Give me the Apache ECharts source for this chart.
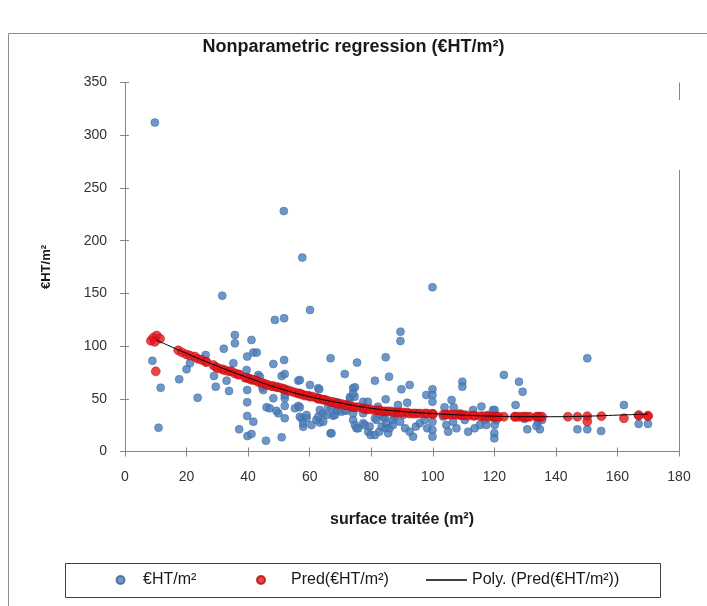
<!DOCTYPE html>
<html>
<head>
<meta charset="utf-8">
<script src="https://cdn.jsdelivr.net/npm/echarts@6/dist/echarts.min.js"></script>
<style>
  html, body { margin: 0; padding: 0; background: #ffffff; }
  #chart { width: 707px; height: 606px; }
</style>
</head>
<body>
<div id="chart"></div>
<script>
// Observed price per m² against treated surface
const observed = [
  [9.7,312],[8.9,86],[11.6,60.5],[10.9,22.6],[17.6,68.5],[20.0,78],[21.1,83.7],
  [23.6,51],[26.2,91.6],[28.9,71.6],[29.5,61.5],[31.6,147.8],[32.1,97.5],[33.0,67.2],[33.8,57.4],
  [35.7,110.5],[35.7,102.6],[35.2,83.7],[37.1,21],[39.7,90],[39.5,77.3],[39.7,58.3],[39.7,46.7],
  [39.7,33.7],[39.8,14.7],
  [41.1,105.8],[41.7,93.8],[42.8,93.8],[41.7,28.3],[41.1,16.6],[43.3,72.6],[43.8,71],[44.9,58.3],
  [44.6,61],[45.8,10.3],[46,41.9],[47,41],[48.2,50.5],[48.2,83],[48.7,124.8],[49.8,36.2],[49.2,38.6],
  [51.7,126.4],[51.6,228],[51.7,86.8],[50.9,71.6],[51.9,73.5],[51.9,50.5],[51.9,43.2],[51.9,31.5],
  [50.9,13.5],[51.9,53.6],[55.2,41],[56.3,43.2],[56.3,67.2],[57.4,31.5],[56.8,67.8],[57.6,183.9],
  [56.8,33],[57.9,23.5],[59,31.5],[56.8,41.9],[59,34.6],[57.9,26.8],
  [60.1,134.3],[60.1,63.1],[60.6,25.1],[62.2,30],[63.3,27.5],[62.8,60],[63.1,59],[63.3,39.4],
  [62.8,33],[64.4,36.2],[64.4,28.3],[65.5,34.6],[66.0,42.5],[66.8,17.2],[66.8,88.4],[67.1,41],
  [67.6,34],[68.2,34.6],[68.7,39.4],[69.2,38.6],[69.2,46.5],[67.1,17.3],
  [70.4,37.8],[71.4,73.5],[71.4,39.4],[72,38.6],[73.1,49.7],[73.1,51.6],[74.1,60],[74.6,52],
  [74.7,60.9],[74.1,55.2],[74.1,36.2],[74.1,29.9],[74.7,25.2],[75.2,22],[75.8,22],[75.4,84.3],
  [77.4,36.2],[77.4,47.2],[77.4,26.8],[77.9,25.2],[78.9,47.2],[79,18.8],[79.5,23.6],[79.8,15.6],
  [81.2,67.2],[81.2,15.6],[81.2,31.5],[81.7,29.9],[82.2,42.5],[82.6,18.8],[82.8,34.6],[83.4,23.6],
  [83.9,33],[84.4,31.5],[84.7,89.4],[84.7,49.5],[84.7,22],[85,26.8],[85.5,17.3],[85.8,71],[86,22],
  [87.1,25.2],[87.1,30],[87.6,33.1],[88.2,37.8],[88.7,44.1],[89.4,28.3],[89.5,113.7],[89.5,104.8],
  [89.8,59],[90.4,34.6],[91,22],[91.7,46.3],[92.5,63.1],[92.5,18.8],[93.6,14.1],[94.5,23.6],
  [95.2,36.2],[95.8,26.8],[97.4,29.9],[97.9,53.6],[98.2,22],[99.9,155.8],[99.9,59],[99.9,53.6],
  [99.9,47.2],[99.9,36.2],[99.9,28.3],[99.9,20.4],[99.9,14.1],
  [103.4,33.1],[103.8,41.9],[104.4,25.2],[105,18.8],[106.1,48.9],[106.6,28.3],[106.8,41.9],
  [107.7,22],[108.8,36.2],[109.6,66.2],[109.6,61.5],[110.4,29.9],[111.5,18.8],[113.1,39.4],
  [113.6,22],[115.3,25.2],[115.8,42.6],[116.9,29.9],[117.4,25.2],[118,34.6],[119.6,39.4],
  [120.1,39.4],[120.1,25.2],[120.7,29.9],[120,17.3],[120,12.5],[123.1,72.6],[126.9,44.1],
  [128,66.2],[129.2,56.7],[129.8,30.9],[130.7,21],[133.7,24.1],[134.2,28.3],[134.8,21],[135.5,29.9],
  [147,21],[150.2,21],[150.2,88.4],[154.7,19.4],[162.1,44.1],[166.9,26.2],[169.9,26.2]
];

// Predicted values from the nonparametric fit
const predicted = [
  [8.4,105],[9.2,108],[10.3,110],[11.4,107],[10,76],[9.7,104],
  [17.3,96],[18.5,94],[20,92],[21.1,91],[22.7,90],[23.6,88],[24.9,87],[26.2,85],[26.5,85],
  [28.7,82],[29.5,80],[30.3,79],[31.6,78],[32.5,77],[33.8,76],[34.6,76],[35.7,74],[36.8,73],
  [37.1,73],[39,70],[39.7,70],[40.5,69],[41.1,68],[41.7,68],[42.8,67],[43.3,66],[44.6,65],
  [45.5,64],[46.5,63],[47.6,62],[48.2,62],[49.2,61],[49.8,61],[50.9,60],[51.7,59],[51.9,59],
  [53,58],[54.1,57],[55.2,56],[56.3,55],[56.8,55],[57.6,54],[58.4,53],[59.5,53],[60.1,52],
  [61,52],[62.2,51],[62.8,50],[63.3,50],[64.4,49],[65,49],[66,48],[66.8,47],[67.6,47],[68.7,46],
  [69.2,45],[70.4,45],[71.4,44],[72,44],[73.1,43],[74.1,42],[74.7,42],[75.8,42],[77.4,41],
  [77.9,40],[78.9,40],[79.8,40],[81.2,39],[82.2,39],[82.8,39],[83.9,38],[84.7,38],[85.5,38],
  [86.6,38],[87.6,37],[88.7,37],[89.4,37],[90.4,37],[91.7,37],[92.5,36],[93.6,36],[94.5,36],
  [95.8,36],[97.4,36],[98.2,36],[99.9,35.5],[100.1,35.5],[103.4,35],[104.4,35],[105.5,35],
  [106.6,35],[107.7,35],[108.8,34.5],[109.6,34.5],[110.4,34.5],[111.5,34],[113.1,34],[113.6,34],
  [115.3,33.5],[116.3,33.5],[117.4,33.5],[118.5,33],[119.6,33],[120.1,33],[120.7,33],[121.5,33],
  [123.1,33],[126.6,33],[126.9,33],[128,33],[129.2,33],[129.8,33],[130.7,33],[131.5,33],
  [133.7,33],[134.2,33],[134.8,33],[135.5,33],[143.9,33],[147,33],[150.2,33.5],[150.2,28.5],
  [154.8,33.5],[162.1,31.5],[166.9,34],[166.9,34.5],[169.9,34],[169.9,33.5]
];

// Polynomial trend of the predictions
const polyTrend = [
  [10,106],[20,93],[30,81],[40,70],[50,60],[60,52],[70,46],[80,41],[90,38],[100,36],
  [110,34.5],[120,33.5],[130,33],[140,33],[150,33.5],[160,34.5],[170,35.5]
];

const xTicks = { min: 0, max: 180, interval: 20 };
const yTicks = { min: 0, max: 350, interval: 50 };

const titleText = 'Nonparametric regression (€HT/m²)';
const xName = 'surface traitée (m²)';
const yName = '€HT/m²';
const seriesNames = ['€HT/m²', 'Pred(€HT/m²)', 'Poly. (Pred(€HT/m²))'];

const FONT = 'Liberation Sans';
const axisGray = '#868686';
const textDark = '#1a1a1a';

const legendText = { fontFamily: FONT, fontSize: 16, color: textDark };

// inner half of the cross-shaped tick marks
const innerTicks = {
  axisLine: { show: false },
  axisTick: { show: true, inside: true, length: 4, lineStyle: { color: axisGray } },
  axisLabel: { show: false },
  splitLine: { show: false }
};

const chart = echarts.init(document.getElementById('chart'), null, { renderer: 'canvas' });

chart.setOption({
  animation: false,
  backgroundColor: '#ffffff',
  textStyle: { fontFamily: FONT },
  title: {
    text: titleText,
    left: 'center',
    top: 33,
    textStyle: { fontFamily: FONT, fontSize: 18, fontWeight: 'bold', color: textDark }
  },
  graphic: [
    // chart area frame
    { type: 'rect', shape: { x: 8.5, y: 33.5, width: 740, height: 620 },
      style: { fill: 'none', stroke: '#8c8c8c', lineWidth: 1 }, silent: true, z: -1 },
    // right edge of the plot area
    { type: 'line', shape: { x1: 679.5, y1: 82.5, x2: 679.5, y2: 100 },
      style: { stroke: axisGray, lineWidth: 1 }, silent: true },
    { type: 'line', shape: { x1: 679.5, y1: 170, x2: 679.5, y2: 451.5 },
      style: { stroke: axisGray, lineWidth: 1 }, silent: true },
    // legend frame
    { type: 'rect', shape: { x: 65.5, y: 563.5, width: 595, height: 34 },
      style: { fill: 'none', stroke: '#404040', lineWidth: 1 }, silent: true }
  ],
  legend: [
    { left: 115.5, top: 572, padding: 0, itemWidth: 35, itemHeight: 8, textStyle: legendText,
      data: [{ name: seriesNames[0], icon: 'circle' }] },
    { left: 256, top: 572, padding: 0, itemWidth: 50, itemHeight: 8, textStyle: legendText,
      data: [{ name: seriesNames[1], icon: 'circle' }] },
    { left: 426, top: 572, padding: 0, itemWidth: 41, itemHeight: 1.6, textStyle: legendText,
      data: [{ name: seriesNames[2], icon: 'rect', itemStyle: { color: '#000000' } }] }
  ],
  grid: { left: 125, right: 28, top: 82.5, bottom: 154.5 },
  xAxis: [
    {
      type: 'value',
      min: xTicks.min, max: xTicks.max, interval: xTicks.interval,
      name: xName,
      nameLocation: 'middle',
      nameGap: 60,
      nameTextStyle: { fontFamily: FONT, fontSize: 16, fontWeight: 'bold', color: textDark },
      axisLine: { show: true, lineStyle: { color: axisGray, width: 1 } },
      axisTick: { show: true, length: 5, lineStyle: { color: axisGray } },
      axisLabel: { margin: 19, fontSize: 14, color: '#333333', fontFamily: FONT },
      splitLine: { show: false }
    },
    Object.assign({ type: 'value', position: 'bottom',
      min: xTicks.min, max: xTicks.max, interval: xTicks.interval }, innerTicks)
  ],
  yAxis: [
    {
      type: 'value',
      min: yTicks.min, max: yTicks.max, interval: yTicks.interval,
      name: yName,
      nameLocation: 'middle',
      nameGap: 72,
      nameRotate: 90,
      nameTextStyle: { fontFamily: FONT, fontSize: 13, fontWeight: 'bold', color: textDark },
      axisLine: { show: true, lineStyle: { color: axisGray, width: 1 } },
      axisTick: { show: true, length: 5, lineStyle: { color: axisGray } },
      axisLabel: { margin: 18, fontSize: 14, color: '#333333', fontFamily: FONT },
      splitLine: { show: false }
    },
    Object.assign({ type: 'value', position: 'left',
      min: yTicks.min, max: yTicks.max, interval: yTicks.interval }, innerTicks)
  ],
  series: [
    {
      name: seriesNames[0],
      type: 'scatter',
      data: observed,
      symbol: 'circle',
      symbolSize: 8,
      itemStyle: { color: '#4a7dbb', borderColor: '#3a6497', borderWidth: 0.6 },
      z: 2
    },
    {
      name: seriesNames[1],
      type: 'scatter',
      data: predicted,
      symbol: 'circle',
      symbolSize: 9,
      itemStyle: { color: '#e3161b', borderColor: '#b5090d', borderWidth: 0.6 },
      z: 3
    },
    {
      name: seriesNames[2],
      type: 'line',
      data: polyTrend,
      smooth: true,
      showSymbol: false,
      symbol: 'none',
      lineStyle: { color: '#000000', width: 1 },
      itemStyle: { color: '#000000' },
      z: 4
    }
  ]
});
</script>
</body>
</html>
